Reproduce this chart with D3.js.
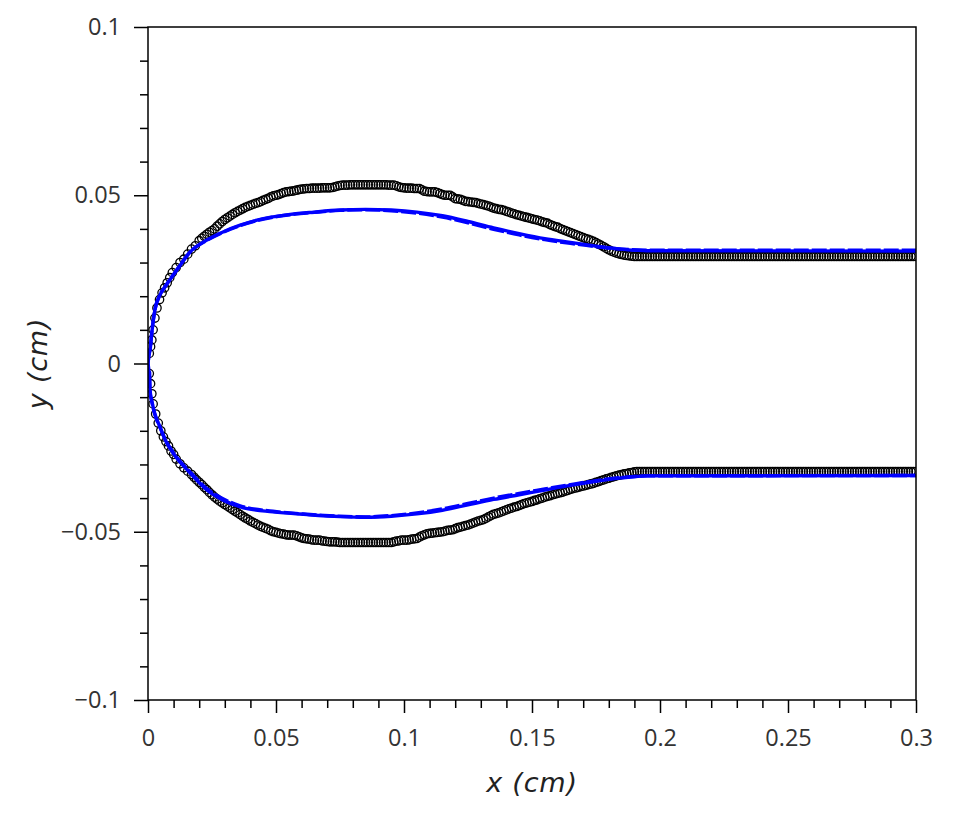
<!DOCTYPE html>
<html>
<head>
<meta charset="utf-8">
<script src="https://cdn.jsdelivr.net/npm/d3@7"></script>
<style>
  html, body { margin: 0; padding: 0; background: #fff; }
  svg { display: block; }
  .tick text { font-family: "Open Sans", "Noto Sans", sans-serif; font-size: 23.5px; fill: #333; }
  .title { font-family: "DejaVu Sans", sans-serif; font-style: italic; font-size: 27px; fill: #222; letter-spacing: 0.8px; }
</style>
</head>
<body>
<svg id="chart" width="961" height="825"></svg>
<script>
// ---------- data ----------
const xTickValues = [0, 0.05, 0.1, 0.15, 0.2, 0.25, 0.3];
const xTickLabels = ["0", "0.05", "0.1", "0.15", "0.2", "0.25", "0.3"];
const yTickValues = [-0.1, -0.05, 0, 0.05, 0.1];
const yTickLabels = ["\u22120.1", "\u22120.05", "0", "0.05", "0.1"];
const minorXTicks = [0.01,0.02,0.03,0.04,0.06,0.07,0.08,0.09,0.11,0.12,0.13,0.14,0.16,0.17,0.18,0.19,0.21,0.22,0.23,0.24,0.26,0.27,0.28,0.29];
const minorYTicks = [-0.09,-0.08,-0.07,-0.06,-0.04,-0.03,-0.02,-0.01,0.01,0.02,0.03,0.04,0.06,0.07,0.08,0.09];

// experimental points (open circles), upper surface: bulge
const upperBodyX = [
  0.0005,0.001,0.0015,0.002,0.0027,0.0035,0.0045,0.0055,0.0065,0.0075,
  0.0085,0.0095,0.011,0.0125,0.014,0.0155,0.017,0.0185,
  0.020,0.021,0.022,0.023,0.024,0.025,0.026,0.027,0.028,0.029,
  0.030,0.031,0.032,0.033,0.034,0.035,0.036,0.037,0.038,0.039,
  0.040,0.041,0.042,0.043,0.044,0.045,0.046,0.047,0.048,0.049,
  0.050,0.051,0.052,0.053,0.054,0.055,0.056,0.057,0.058,0.059,
  0.060,0.061,0.062,0.063,0.064,0.065,0.066,0.067,0.068,0.069,
  0.070,0.071,0.072,0.073,0.074,0.075,0.076,0.077,0.078,0.079,
  0.080,0.081,0.082,0.083,0.084,0.085,0.086,0.087,0.088,0.089,
  0.090,0.091,0.092,0.093,0.094,0.095,0.096,0.097,0.098,0.099,
  0.100,0.101,0.102,0.103,0.104,0.105,0.106,0.107,0.108,0.109,
  0.110,0.111,0.112,0.113,0.114,0.115,0.116,0.117,0.118,0.119,
  0.120,0.121,0.122,0.123,0.124,0.125,0.126,0.127,0.128,0.129,
  0.130,0.131,0.132,0.133,0.134,0.135,0.136,0.137,0.138,0.139,
  0.140,0.141,0.142,0.143,0.144,0.145,0.146,0.147,0.148,0.149,
  0.150,0.151,0.152,0.153,0.154,0.155,0.156,0.157,0.158,0.159,
  0.160,0.161,0.162,0.163,0.164,0.165,0.166,0.167,0.168,0.169,
  0.170,0.171,0.172,0.173,0.174,0.175,0.176,0.177,0.178,0.179,
  0.180,0.181,0.182,0.183,0.184,0.185,0.186,0.187,0.188,0.189,
  0.190];
const upperBodyY = [
  0.003,0.005,0.007,0.010,0.0135,0.0165,0.019,0.021,0.0225,0.024,
  0.0255,0.027,0.0285,0.030,0.031,0.0325,0.034,0.035,
  0.0365,0.0372,0.0378,0.0384,0.0390,0.0395,0.0400,0.0408,0.0415,0.0422,
  0.0428,0.0433,0.0438,0.0443,0.0448,0.0452,0.0456,0.0460,0.0464,0.0467,
  0.0470,0.0473,0.0476,0.0478,0.0481,0.0485,0.0488,0.0491,0.0495,0.0498,
  0.0500,0.0502,0.0505,0.0508,0.0510,0.0511,0.0512,0.0513,0.0515,0.0517,
  0.0518,0.0519,0.0520,0.0520,0.0521,0.0521,0.0521,0.0521,0.0522,0.0522,
  0.0522,0.0522,0.0523,0.0525,0.0527,0.0529,0.0530,0.0530,0.0530,0.0531,
  0.0531,0.0531,0.0531,0.0531,0.0531,0.0531,0.0531,0.0531,0.0531,0.0531,
  0.0531,0.0531,0.0531,0.0531,0.0530,0.0530,0.0530,0.0528,0.0525,0.0523,
  0.0522,0.0521,0.0521,0.0521,0.0520,0.0520,0.0520,0.0516,0.0512,0.0511,
  0.0510,0.0510,0.0510,0.0508,0.0505,0.0502,0.0500,0.0500,0.0500,0.0495,
  0.0490,0.0489,0.0488,0.0485,0.0482,0.0481,0.0480,0.0479,0.0478,0.0476,
  0.0474,0.0472,0.0470,0.0468,0.0465,0.0462,0.0460,0.0458,0.0457,0.0455,
  0.0452,0.0450,0.0447,0.0445,0.0442,0.0440,0.0438,0.0436,0.0434,0.0432,
  0.0430,0.0428,0.0426,0.0424,0.0421,0.0419,0.0417,0.0413,0.0410,0.0407,
  0.0405,0.0401,0.0398,0.0395,0.0392,0.0389,0.0386,0.0383,0.0380,0.0377,
  0.0374,0.0371,0.0369,0.0366,0.0363,0.0359,0.0355,0.0351,0.0347,0.0342,
  0.0338,0.0334,0.0331,0.0328,0.0326,0.0324,0.0322,0.0321,0.0320,0.0319,
  0.0318];
// upper surface: flat film region
const upperFlatX = [
  0.191,0.192,0.193,0.194,0.195,0.196,0.197,0.198,0.199,0.200,
  0.201,0.202,0.203,0.204,0.205,0.206,0.207,0.208,0.209,0.210,
  0.211,0.212,0.213,0.214,0.215,0.216,0.217,0.218,0.219,0.220,
  0.221,0.222,0.223,0.224,0.225,0.226,0.227,0.228,0.229,0.230,
  0.231,0.232,0.233,0.234,0.235,0.236,0.237,0.238,0.239,0.240,
  0.241,0.242,0.243,0.244,0.245,0.246,0.247,0.248,0.249,0.250,
  0.251,0.252,0.253,0.254,0.255,0.256,0.257,0.258,0.259,0.260,
  0.261,0.262,0.263,0.264,0.265,0.266,0.267,0.268,0.269,0.270,
  0.271,0.272,0.273,0.274,0.275,0.276,0.277,0.278,0.279,0.280,
  0.281,0.282,0.283,0.284,0.285,0.286,0.287,0.288,0.289,0.290,
  0.291,0.292,0.293,0.294,0.295,0.296,0.297,0.298,0.299,0.300];
const upperFlatY = [
  0.0318,0.0318,0.0318,0.0318,0.0318,0.0318,0.0318,0.0318,0.0318,0.0318,
  0.0318,0.0318,0.0318,0.0318,0.0318,0.0318,0.0318,0.0318,0.0318,0.0318,
  0.0318,0.0318,0.0318,0.0318,0.0318,0.0318,0.0318,0.0318,0.0318,0.0318,
  0.0318,0.0318,0.0318,0.0318,0.0318,0.0318,0.0318,0.0318,0.0318,0.0318,
  0.0318,0.0318,0.0318,0.0318,0.0318,0.0318,0.0318,0.0318,0.0318,0.0318,
  0.0318,0.0318,0.0318,0.0318,0.0318,0.0318,0.0318,0.0318,0.0318,0.0318,
  0.0318,0.0318,0.0318,0.0318,0.0318,0.0318,0.0318,0.0318,0.0318,0.0318,
  0.0318,0.0318,0.0318,0.0318,0.0318,0.0318,0.0318,0.0318,0.0318,0.0318,
  0.0318,0.0318,0.0318,0.0318,0.0318,0.0318,0.0318,0.0318,0.0318,0.0318,
  0.0318,0.0318,0.0318,0.0318,0.0318,0.0318,0.0318,0.0318,0.0318,0.0318,
  0.0318,0.0318,0.0318,0.0318,0.0318,0.0318,0.0318,0.0318,0.0318,0.0318];

// experimental points, lower surface: bulge
const lowerBodyX = [
  0.0005,0.001,0.0015,0.002,0.003,0.004,0.005,0.006,0.007,0.008,
  0.009,0.010,0.011,0.0125,0.014,0.0155,0.017,
  0.018,0.019,0.020,0.021,0.022,0.023,0.024,0.025,0.026,0.027,
  0.028,0.029,0.030,0.031,0.032,0.033,0.034,0.035,0.036,0.037,
  0.038,0.039,0.040,0.041,0.042,0.043,0.044,0.045,0.046,0.047,
  0.048,0.049,0.050,0.051,0.052,0.053,0.054,0.055,0.056,0.057,
  0.058,0.059,0.060,0.061,0.062,0.063,0.064,0.065,0.066,0.067,
  0.068,0.069,0.070,0.071,0.072,0.073,0.074,0.075,0.076,0.077,
  0.078,0.079,0.080,0.081,0.082,0.083,0.084,0.085,0.086,0.087,
  0.088,0.089,0.090,0.091,0.092,0.093,0.094,0.095,0.096,0.097,
  0.098,0.099,0.100,0.101,0.102,0.103,0.104,0.105,0.106,0.107,
  0.108,0.109,0.110,0.111,0.112,0.113,0.114,0.115,0.116,0.117,
  0.118,0.119,0.120,0.121,0.122,0.123,0.124,0.125,0.126,0.127,
  0.128,0.129,0.130,0.131,0.132,0.133,0.134,0.135,0.136,0.137,
  0.138,0.139,0.140,0.141,0.142,0.143,0.144,0.145,0.146,0.147,
  0.148,0.149,0.150,0.151,0.152,0.153,0.154,0.155,0.156,0.157,
  0.158,0.159,0.160,0.161,0.162,0.163,0.164,0.165,0.166,0.167,
  0.168,0.169,0.170,0.171,0.172,0.173,0.174,0.175,0.176,0.177,
  0.178,0.179,0.180,0.181,0.182,0.183,0.184,0.185,0.186,0.187,
  0.188,0.189,0.190];
const lowerBodyY = [
  -0.003,-0.006,-0.009,-0.012,-0.015,-0.0177,-0.020,-0.0218,-0.0232,-0.0245,
  -0.026,-0.027,-0.0284,-0.0298,-0.031,-0.032,-0.033,
  -0.0338,-0.0346,-0.0353,-0.0360,-0.0368,-0.0375,-0.0383,-0.0390,-0.0397,-0.0403,
  -0.0409,-0.0414,-0.0419,-0.0424,-0.0429,-0.0434,-0.0439,-0.0444,-0.0449,-0.0454,
  -0.0459,-0.0463,-0.0468,-0.0472,-0.0476,-0.0480,-0.0484,-0.0487,-0.0490,-0.0493,
  -0.0497,-0.0500,-0.0502,-0.0504,-0.0506,-0.0507,-0.0509,-0.0510,-0.0510,-0.0510,
  -0.0512,-0.0515,-0.0518,-0.0520,-0.0521,-0.0522,-0.0524,-0.0525,-0.0525,-0.0525,
  -0.0527,-0.0528,-0.0529,-0.0530,-0.0530,-0.0530,-0.0531,-0.0532,-0.0532,-0.0532,
  -0.0532,-0.0532,-0.0532,-0.0532,-0.0532,-0.0532,-0.0532,-0.0532,-0.0532,-0.0532,
  -0.0532,-0.0532,-0.0532,-0.0532,-0.0532,-0.0532,-0.0532,-0.0532,-0.0530,-0.0528,
  -0.0527,-0.0525,-0.0525,-0.0525,-0.0524,-0.0522,-0.0521,-0.0520,-0.0516,-0.0512,
  -0.0509,-0.0506,-0.0505,-0.0504,-0.0503,-0.0502,-0.0501,-0.0500,-0.0498,-0.0496,
  -0.0495,-0.0494,-0.0491,-0.0488,-0.0486,-0.0484,-0.0482,-0.0480,-0.0477,-0.0474,
  -0.0471,-0.0468,-0.0466,-0.0464,-0.0460,-0.0456,-0.0452,-0.0448,-0.0446,-0.0444,
  -0.0441,-0.0438,-0.0435,-0.0432,-0.0430,-0.0427,-0.0425,-0.0422,-0.0419,-0.0416,
  -0.0414,-0.0412,-0.0410,-0.0407,-0.0405,-0.0402,-0.0400,-0.0397,-0.0395,-0.0393,
  -0.0390,-0.0388,-0.0386,-0.0384,-0.0382,-0.0379,-0.0377,-0.0374,-0.0372,-0.0370,
  -0.0368,-0.0366,-0.0364,-0.0362,-0.0360,-0.0358,-0.0356,-0.0353,-0.0351,-0.0348,
  -0.0346,-0.0343,-0.0341,-0.0338,-0.0336,-0.0334,-0.0332,-0.0330,-0.0328,-0.0327,
  -0.0325,-0.0324,-0.0322];
// lower surface: flat film region
const lowerFlatX = [
  0.191,0.192,0.193,0.194,0.195,0.196,0.197,0.198,0.199,0.200,
  0.201,0.202,0.203,0.204,0.205,0.206,0.207,0.208,0.209,0.210,
  0.211,0.212,0.213,0.214,0.215,0.216,0.217,0.218,0.219,0.220,
  0.221,0.222,0.223,0.224,0.225,0.226,0.227,0.228,0.229,0.230,
  0.231,0.232,0.233,0.234,0.235,0.236,0.237,0.238,0.239,0.240,
  0.241,0.242,0.243,0.244,0.245,0.246,0.247,0.248,0.249,0.250,
  0.251,0.252,0.253,0.254,0.255,0.256,0.257,0.258,0.259,0.260,
  0.261,0.262,0.263,0.264,0.265,0.266,0.267,0.268,0.269,0.270,
  0.271,0.272,0.273,0.274,0.275,0.276,0.277,0.278,0.279,0.280,
  0.281,0.282,0.283,0.284,0.285,0.286,0.287,0.288,0.289,0.290,
  0.291,0.292,0.293,0.294,0.295,0.296,0.297,0.298,0.299,0.300];
const lowerFlatY = [
  -0.0321,-0.0321,-0.0321,-0.0321,-0.0321,-0.0321,-0.0321,-0.0321,-0.0321,-0.0321,
  -0.0321,-0.0321,-0.0321,-0.0321,-0.0321,-0.0321,-0.0321,-0.0321,-0.0321,-0.0321,
  -0.0321,-0.0321,-0.0321,-0.0321,-0.0321,-0.0321,-0.0321,-0.0321,-0.0321,-0.0321,
  -0.0321,-0.0321,-0.0321,-0.0321,-0.0321,-0.0321,-0.0321,-0.0321,-0.0321,-0.0321,
  -0.0321,-0.0321,-0.0321,-0.0321,-0.0321,-0.0321,-0.0321,-0.0321,-0.0321,-0.0321,
  -0.0321,-0.0321,-0.0321,-0.0321,-0.0321,-0.0321,-0.0321,-0.0321,-0.0321,-0.0321,
  -0.0321,-0.0321,-0.0321,-0.0321,-0.0321,-0.0321,-0.0321,-0.0321,-0.0321,-0.0321,
  -0.0321,-0.0321,-0.0321,-0.0321,-0.0321,-0.0321,-0.0321,-0.0321,-0.0321,-0.0321,
  -0.0321,-0.0321,-0.0321,-0.0321,-0.0321,-0.0321,-0.0321,-0.0321,-0.0321,-0.0321,
  -0.0321,-0.0321,-0.0321,-0.0321,-0.0321,-0.0321,-0.0321,-0.0321,-0.0321,-0.0321,
  -0.0321,-0.0321,-0.0321,-0.0321,-0.0321,-0.0321,-0.0321,-0.0321,-0.0321,-0.0321];

// simulation, solid blue line
const solidUpperX = [0, 0.0004, 0.0008, 0.0016, 0.0027, 0.0047, 0.0066, 0.0113, 0.0164, 0.023, 0.0293, 0.036, 0.0426, 0.0555, 0.065, 0.075, 0.085, 0.095, 0.105, 0.115, 0.125, 0.135, 0.145, 0.155, 0.165, 0.175, 0.185, 0.195, 0.3];
const solidUpperY = [0, 0.0025, 0.004, 0.0099, 0.0159, 0.0204, 0.0227, 0.0278, 0.0331, 0.0367, 0.0391, 0.0411, 0.0426, 0.0443, 0.0450, 0.0456, 0.0458, 0.0456, 0.0450, 0.0439, 0.0422, 0.0403, 0.0386, 0.0371, 0.0360, 0.0349, 0.0340, 0.0335, 0.0334];
const solidLowerX = [0, 0.0004, 0.0008, 0.0016, 0.0027, 0.0047, 0.0066, 0.0098, 0.0164, 0.023, 0.0293, 0.036, 0.0488, 0.0621, 0.075, 0.085, 0.095, 0.105, 0.115, 0.125, 0.135, 0.145, 0.155, 0.165, 0.175, 0.185, 0.195, 0.3];
const solidLowerY = [0, -0.0025, -0.0079, -0.0115, -0.0150, -0.0189, -0.0225, -0.0266, -0.0325, -0.0376, -0.0406, -0.0426, -0.0441, -0.0449, -0.0455, -0.0457, -0.0454, -0.0447, -0.0436, -0.0420, -0.0404, -0.0390, -0.0376, -0.0362, -0.0350, -0.0340, -0.0334, -0.0333];

// simulation, dashed blue line
const dashUpperX = [0, 0.0004, 0.0008, 0.0016, 0.0027, 0.0047, 0.0066, 0.0113, 0.0164, 0.023, 0.0293, 0.036, 0.0426, 0.0555, 0.065, 0.075, 0.085, 0.095, 0.105, 0.115, 0.125, 0.135, 0.145, 0.155, 0.165, 0.175, 0.185, 0.195, 0.3];
const dashUpperY = [0, 0.0028, 0.0045, 0.0102, 0.0160, 0.0205, 0.0228, 0.0279, 0.0331, 0.0366, 0.0390, 0.0410, 0.0425, 0.0442, 0.0449, 0.0455, 0.0457, 0.0454, 0.0447, 0.0435, 0.0418, 0.0399, 0.0382, 0.0368, 0.0357, 0.0347, 0.0340, 0.0337, 0.0337];
const dashLowerX = [0, 0.0004, 0.0006, 0.0008, 0.0016, 0.0027, 0.0047, 0.0066, 0.0098, 0.0164, 0.023, 0.0293, 0.036, 0.0488, 0.0621, 0.075, 0.085, 0.095, 0.105, 0.115, 0.125, 0.135, 0.145, 0.155, 0.165, 0.175, 0.185, 0.195, 0.3];
const dashLowerY = [0, -0.0060, -0.0020, -0.0085, -0.0118, -0.0152, -0.0190, -0.0224, -0.0264, -0.0322, -0.0372, -0.0402, -0.0423, -0.0439, -0.0448, -0.0454, -0.0456, -0.0452, -0.0444, -0.0432, -0.0416, -0.0400, -0.0386, -0.0373, -0.0360, -0.0348, -0.0339, -0.0334, -0.0333];

// ---------- drawing ----------
const svg = d3.select("#chart");
const mLeft = 148, mRight = 916, mTop = 27, mBottom = 700;
const x = d3.scaleLinear().domain([0, 0.3]).range([mLeft, mRight]);
const y = d3.scaleLinear().domain([-0.1, 0.1]).range([mBottom, mTop]);

// minor ticks
svg.append("g").attr("transform", `translate(0,${mBottom})`)
  .call(d3.axisBottom(x).tickValues(minorXTicks).tickSize(8).tickFormat(""))
  .call(g => g.select(".domain").remove())
  .selectAll("line").attr("stroke", "#000").attr("stroke-width", 1.5);
svg.append("g").attr("transform", `translate(${mLeft},0)`)
  .call(d3.axisLeft(y).tickValues(minorYTicks).tickSize(8).tickFormat(""))
  .call(g => g.select(".domain").remove())
  .selectAll("line").attr("stroke", "#000").attr("stroke-width", 1.5);

// major ticks with labels
const gx = svg.append("g").attr("transform", `translate(0,${mBottom})`)
  .call(d3.axisBottom(x).tickValues(xTickValues).tickSize(13).tickPadding(16)
    .tickFormat((d, i) => xTickLabels[i]));
gx.select(".domain").remove();
gx.selectAll("line").attr("stroke", "#000").attr("stroke-width", 1.5);
gx.selectAll("text").attr("font-family", null).attr("font-size", null);

const gy = svg.append("g").attr("transform", `translate(${mLeft},0)`)
  .call(d3.axisLeft(y).tickValues(yTickValues).tickSize(14).tickPadding(13)
    .tickFormat((d, i) => yTickLabels[i]));
gy.select(".domain").remove();
gy.selectAll("line").attr("stroke", "#000").attr("stroke-width", 1.5);
gy.selectAll("text").attr("font-family", null).attr("font-size", null);

// clip
svg.append("clipPath").attr("id", "clip").append("rect")
  .attr("x", mLeft).attr("y", mTop).attr("width", mRight - mLeft).attr("height", mBottom - mTop);
const plot = svg.append("g").attr("clip-path", "url(#clip)");

// markers
const drawMarks = (xs, ys) => {
  plot.append("g").selectAll("circle").data(xs.map((d, i) => [d, ys[i]])).join("circle")
    .attr("cx", d => x(d[0])).attr("cy", d => y(d[1])).attr("r", 4.2)
    .attr("fill", "none").attr("stroke", "#000").attr("stroke-width", 1.3);
};
drawMarks(upperBodyX, upperBodyY);
drawMarks(upperFlatX, upperFlatY);
drawMarks(lowerBodyX, lowerBodyY);
drawMarks(lowerFlatX, lowerFlatY);

const line = d3.line().x(d => x(d[0])).y(d => y(d[1])).curve(d3.curveMonotoneX);
const drawLine = (xs, ys, dash) => {
  plot.append("path").datum(xs.map((d, i) => [d, ys[i]]))
    .attr("d", line).attr("fill", "none").attr("stroke", "#0000ff")
    .attr("stroke-width", 3.4).attr("stroke-dasharray", dash);
};
drawLine(solidUpperX, solidUpperY, null);
drawLine(solidLowerX, solidLowerY, null);
drawLine(dashUpperX, dashUpperY, "15,3");
drawLine(dashLowerX, dashLowerY, "15,3");

// frame
svg.append("rect").attr("x", mLeft).attr("y", mTop).attr("width", mRight - mLeft).attr("height", mBottom - mTop)
  .attr("fill", "none").attr("stroke", "#000").attr("stroke-width", 1.5);

// axis titles
svg.append("text").attr("class", "title").attr("x", (mLeft + mRight) / 2).attr("y", 792)
  .attr("text-anchor", "middle").text("x (cm)");
svg.append("text").attr("class", "title")
  .attr("transform", `translate(47,${(mTop + mBottom) / 2}) rotate(-90)`)
  .attr("text-anchor", "middle").text("y (cm)");
</script>
</body>
</html>
